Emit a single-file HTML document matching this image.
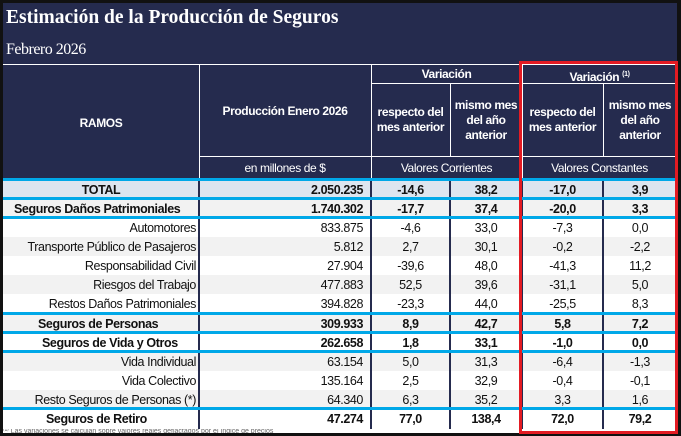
<!DOCTYPE html>
<html><head><meta charset="utf-8"><style>
*{margin:0;padding:0;box-sizing:border-box}
body{width:681px;height:436px;background:#111;position:relative;overflow:hidden;font-family:"Liberation Sans",sans-serif;}
.a{position:absolute}
.hdr{background:#252b4e;color:#fff}
.t{position:absolute;font-size:12.5px;line-height:19px;white-space:nowrap;color:#111;letter-spacing:-0.4px;margin-top:2px}
.b{font-weight:bold}
.r{text-align:right}
.c{text-align:center}
.w{color:#fff;font-size:12px;font-weight:bold;text-align:center;position:absolute;line-height:15px;letter-spacing:-0.4px}
.blue{position:absolute;left:3px;width:674px;height:3px;background:#00a8e8}
.vl{position:absolute;width:2px;background:#252b4e}
.wl{position:absolute;background:#fff}
</style></head><body>
<div class="a hdr" style="left:3px;top:3px;width:674px;height:178px"></div>
<div class="a" style="left:6px;top:7px;color:#fff;font-family:'Liberation Serif',serif;font-weight:bold;font-size:19.5px">Estimación de la Producción de Seguros</div>
<div class="a" style="left:6px;top:41px;color:#fff;font-family:'Liberation Serif',serif;font-size:16px;letter-spacing:-0.5px">Febrero 2026</div>
<div class="wl" style="left:3px;top:64px;width:674px;height:1px"></div>
<div class="wl" style="left:199px;top:64px;width:1px;height:115px"></div>
<div class="wl" style="left:371px;top:64px;width:1px;height:115px"></div>
<div class="wl" style="left:450px;top:84px;width:1px;height:72px"></div>
<div class="wl" style="left:603px;top:84px;width:1px;height:72px"></div>
<div class="wl" style="left:522px;top:64px;width:1px;height:115px"></div>
<div class="wl" style="left:371px;top:83px;width:306px;height:1px"></div>
<div class="wl" style="left:199px;top:156px;width:478px;height:1px"></div>
<div class="w" style="left:3px;top:116px;width:196px">RAMOS</div>
<div class="w" style="left:199px;top:104px;width:172px">Producción Enero 2026</div>
<div class="w" style="left:371px;top:67px;width:151px">Variación</div>
<div class="w" style="left:522px;top:67px;width:155px">Variación <sup style="font-size:7px">(1)</sup></div>
<div class="w" style="left:371px;top:105px;width:79px">respecto del<br>mes anterior</div>
<div class="w" style="left:450px;top:98px;width:72px">mismo mes<br>del año<br>anterior</div>
<div class="w" style="left:522px;top:105px;width:81px">respecto del<br>mes anterior</div>
<div class="w" style="left:603px;top:98px;width:74px">mismo mes<br>del año<br>anterior</div>
<div class="w" style="left:199px;top:161px;width:172px;font-weight:normal">en millones de $</div>
<div class="w" style="left:371px;top:161px;width:151px;font-weight:normal">Valores Corrientes</div>
<div class="w" style="left:522px;top:161px;width:155px;font-weight:normal">Valores Constantes</div>

<div class="a" style="left:3px;top:179px;width:674px;height:250px;background:#fff"></div>
<div class="a" style="left:3px;top:181px;width:674px;height:17px;background:#dde5ef"></div>
<div class="a" style="left:3px;top:199px;width:674px;height:19px;background:#f2f2f2"></div>
<div class="a" style="left:3px;top:237px;width:674px;height:19px;background:#f2f2f2"></div>
<div class="a" style="left:3px;top:275px;width:674px;height:19px;background:#f2f2f2"></div>
<div class="a" style="left:3px;top:314px;width:674px;height:18px;background:#f2f2f2"></div>
<div class="a" style="left:3px;top:352px;width:674px;height:19px;background:#f2f2f2"></div>
<div class="a" style="left:3px;top:390px;width:674px;height:18px;background:#f2f2f2"></div>
<div class="a" style="left:3px;top:429px;width:674px;height:4px;background:#fff;overflow:hidden"><div style="font-size:7px;line-height:8px;color:#666;margin-top:-1px">⁽¹⁾ Las variaciones se calculan sobre valores reales deflactados por el índice de precios</div></div>

<div class="vl" style="left:198px;top:179px;height:250px"></div>
<div class="vl" style="left:370px;top:179px;height:250px"></div>
<div class="vl" style="left:449px;top:179px;height:250px"></div>
<div class="vl" style="left:521px;top:179px;height:250px"></div>
<div class="vl" style="left:602px;top:179px;height:250px"></div>

<div class="blue" style="top:178px"></div>
<div class="blue" style="top:197px"></div>
<div class="blue" style="top:216px"></div>
<div class="blue" style="top:312px"></div>
<div class="blue" style="top:331px"></div>
<div class="blue" style="top:350px"></div>
<div class="blue" style="top:407px"></div>

<div class="t b c" style="left:3px;top:179px;width:196px">TOTAL</div>
<div class="t b" style="left:14px;top:198px">Seguros Daños Patrimoniales</div>
<div class="t r" style="left:3px;top:217px;width:193px">Automotores</div>
<div class="t r" style="left:3px;top:236px;width:193px">Transporte Público de Pasajeros</div>
<div class="t r" style="left:3px;top:255px;width:193px">Responsabilidad Civil</div>
<div class="t r" style="left:3px;top:274px;width:193px">Riesgos del Trabajo</div>
<div class="t r" style="left:3px;top:293px;width:193px">Restos Daños Patrimoniales</div>
<div class="t b" style="left:38px;top:313px">Seguros de Personas</div>
<div class="t b" style="left:42px;top:332px">Seguros de Vida y Otros</div>
<div class="t r" style="left:3px;top:351px;width:193px">Vida Individual</div>
<div class="t r" style="left:3px;top:370px;width:193px">Vida Colectivo</div>
<div class="t r" style="left:3px;top:389px;width:193px">Resto Seguros de Personas (*)</div>
<div class="t b" style="left:46px;top:408px">Seguros de Retiro</div>

<div class="t b r" style="left:200px;top:179px;width:163px">2.050.235</div>
<div class="t b r" style="left:200px;top:198px;width:163px">1.740.302</div>
<div class="t r" style="left:200px;top:217px;width:163px">833.875</div>
<div class="t r" style="left:200px;top:236px;width:163px">5.812</div>
<div class="t r" style="left:200px;top:255px;width:163px">27.904</div>
<div class="t r" style="left:200px;top:274px;width:163px">477.883</div>
<div class="t r" style="left:200px;top:293px;width:163px">394.828</div>
<div class="t b r" style="left:200px;top:313px;width:163px">309.933</div>
<div class="t b r" style="left:200px;top:332px;width:163px">262.658</div>
<div class="t r" style="left:200px;top:351px;width:163px">63.154</div>
<div class="t r" style="left:200px;top:370px;width:163px">135.164</div>
<div class="t r" style="left:200px;top:389px;width:163px">64.340</div>
<div class="t b r" style="left:200px;top:408px;width:163px">47.274</div>

<div class="t c b" style="left:371px;top:179px;width:79px">-14,6</div>
<div class="t c b" style="left:371px;top:198px;width:79px">-17,7</div>
<div class="t c" style="left:371px;top:217px;width:79px">-4,6</div>
<div class="t c" style="left:371px;top:236px;width:79px">2,7</div>
<div class="t c" style="left:371px;top:255px;width:79px">-39,6</div>
<div class="t c" style="left:371px;top:274px;width:79px">52,5</div>
<div class="t c" style="left:371px;top:293px;width:79px">-23,3</div>
<div class="t c b" style="left:371px;top:313px;width:79px">8,9</div>
<div class="t c b" style="left:371px;top:332px;width:79px">1,8</div>
<div class="t c" style="left:371px;top:351px;width:79px">5,0</div>
<div class="t c" style="left:371px;top:370px;width:79px">2,5</div>
<div class="t c" style="left:371px;top:389px;width:79px">6,3</div>
<div class="t c b" style="left:371px;top:408px;width:79px">77,0</div>

<div class="t c b" style="left:450px;top:179px;width:72px">38,2</div>
<div class="t c b" style="left:450px;top:198px;width:72px">37,4</div>
<div class="t c" style="left:450px;top:217px;width:72px">33,0</div>
<div class="t c" style="left:450px;top:236px;width:72px">30,1</div>
<div class="t c" style="left:450px;top:255px;width:72px">48,0</div>
<div class="t c" style="left:450px;top:274px;width:72px">39,6</div>
<div class="t c" style="left:450px;top:293px;width:72px">44,0</div>
<div class="t c b" style="left:450px;top:313px;width:72px">42,7</div>
<div class="t c b" style="left:450px;top:332px;width:72px">33,1</div>
<div class="t c" style="left:450px;top:351px;width:72px">31,3</div>
<div class="t c" style="left:450px;top:370px;width:72px">32,9</div>
<div class="t c" style="left:450px;top:389px;width:72px">35,2</div>
<div class="t c b" style="left:450px;top:408px;width:72px">138,4</div>

<div class="t c b" style="left:522px;top:179px;width:81px">-17,0</div>
<div class="t c b" style="left:522px;top:198px;width:81px">-20,0</div>
<div class="t c" style="left:522px;top:217px;width:81px">-7,3</div>
<div class="t c" style="left:522px;top:236px;width:81px">-0,2</div>
<div class="t c" style="left:522px;top:255px;width:81px">-41,3</div>
<div class="t c" style="left:522px;top:274px;width:81px">-31,1</div>
<div class="t c" style="left:522px;top:293px;width:81px">-25,5</div>
<div class="t c b" style="left:522px;top:313px;width:81px">5,8</div>
<div class="t c b" style="left:522px;top:332px;width:81px">-1,0</div>
<div class="t c" style="left:522px;top:351px;width:81px">-6,4</div>
<div class="t c" style="left:522px;top:370px;width:81px">-0,4</div>
<div class="t c" style="left:522px;top:389px;width:81px">3,3</div>
<div class="t c b" style="left:522px;top:408px;width:81px">72,0</div>

<div class="t c b" style="left:603px;top:179px;width:74px">3,9</div>
<div class="t c b" style="left:603px;top:198px;width:74px">3,3</div>
<div class="t c" style="left:603px;top:217px;width:74px">0,0</div>
<div class="t c" style="left:603px;top:236px;width:74px">-2,2</div>
<div class="t c" style="left:603px;top:255px;width:74px">11,2</div>
<div class="t c" style="left:603px;top:274px;width:74px">5,0</div>
<div class="t c" style="left:603px;top:293px;width:74px">8,3</div>
<div class="t c b" style="left:603px;top:313px;width:74px">7,2</div>
<div class="t c b" style="left:603px;top:332px;width:74px">0,0</div>
<div class="t c" style="left:603px;top:351px;width:74px">-1,3</div>
<div class="t c" style="left:603px;top:370px;width:74px">-0,1</div>
<div class="t c" style="left:603px;top:389px;width:74px">1,6</div>
<div class="t c b" style="left:603px;top:408px;width:74px">79,2</div>

<div class="a" style="left:519px;top:61px;width:159px;height:373px;border:3.5px solid #e31b23"></div>
</body></html>
